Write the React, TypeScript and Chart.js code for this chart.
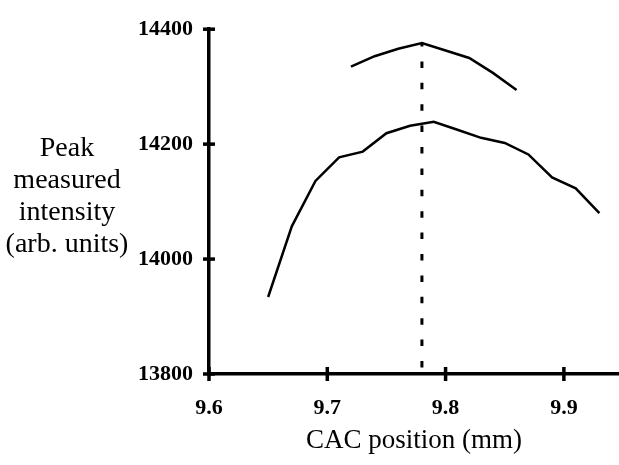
import React, { useEffect, useRef } from "react";
import { Chart, registerables } from "chart.js";

Chart.register(...registerables);

// Lower scan (measured peak intensity vs CAC position)
const lowerX = [9.65, 9.67, 9.69, 9.71, 9.73, 9.75, 9.77, 9.79, 9.81, 9.83, 9.85, 9.87, 9.89, 9.91, 9.93];
const lowerY = [13934, 14057, 14136, 14177, 14187, 14219, 14232, 14239, 14225, 14211, 14202, 14182, 14142, 14123, 14080];

// Upper scan
const upperX = [9.72, 9.74, 9.76, 9.78, 9.8, 9.82, 9.84, 9.86];
const upperY = [14335, 14353, 14366, 14376, 14363, 14350, 14324, 14294];

// Dashed marker at the optimum position
const markerX = 9.78;
const markerY = [14376, 13800];

// Axis ticks
const xTicks = [9.6, 9.7, 9.8, 9.9];
const yTicks = [13800, 14000, 14200, 14400];

const xTitle = "CAC position (mm)";
const yTitleLines = ["Peak", "measured", "intensity", "(arb. units)"];

const SERIF = "'Liberation Serif', 'Times New Roman', Times, serif";

const crossTicks = {
  id: "crossTicks",
  afterDraw(chart: any) {
    const ctx = chart.ctx;
    const xs = chart.scales.x;
    const ys = chart.scales.y;
    const axisX = chart.chartArea.left;
    const axisY = chart.chartArea.bottom;
    ctx.save();
    ctx.strokeStyle = "#000";
    ctx.lineWidth = 3.5;
    yTicks.forEach((v) => {
      const py = ys.getPixelForValue(v);
      ctx.beginPath();
      ctx.moveTo(axisX - 6, py);
      ctx.lineTo(axisX + 6, py);
      ctx.stroke();
    });
    xTicks.forEach((v) => {
      const px = xs.getPixelForValue(v);
      ctx.beginPath();
      ctx.moveTo(px, axisY - 7);
      ctx.lineTo(px, axisY + 7);
      ctx.stroke();
    });
    // horizontal y-axis title
    ctx.fillStyle = "#000";
    ctx.font = `28px ${SERIF}`;
    ctx.textAlign = "center";
    ctx.textBaseline = "alphabetic";
    const cx = 67;
    const firstBaseline = 156;
    const lh = 32;
    yTitleLines.forEach((line, i) => {
      ctx.fillText(line, cx, firstBaseline + i * lh);
    });
    ctx.restore();
  },
};

export default function App() {
  const ref = useRef<HTMLCanvasElement | null>(null);

  useEffect(() => {
    if (!ref.current) return;
    const toPts = (xs: number[], ys: number[]) => xs.map((x, i) => ({ x, y: ys[i] }));
    const chart = new Chart(ref.current, {
      type: "scatter",
      data: {
        datasets: [
          {
            data: toPts(lowerX, lowerY),
            showLine: true,
            borderColor: "#000",
            borderWidth: 2.5,
            pointRadius: 0,
            tension: 0,
            fill: false,
          },
          {
            data: toPts(upperX, upperY),
            showLine: true,
            borderColor: "#000",
            borderWidth: 2.5,
            pointRadius: 0,
            tension: 0,
            fill: false,
          },
          {
            data: markerY.map((y) => ({ x: markerX, y })),
            showLine: true,
            borderColor: "#000",
            borderWidth: 3,
            borderDash: [6.5, 14.9],
            borderDashOffset: 3,
            pointRadius: 0,
            fill: false,
          },
        ],
      },
      options: {
        animation: false,
        responsive: false,
        devicePixelRatio: 1,
        layout: { padding: { top: 19, right: 0, bottom: 0, left: 0 } },
        plugins: {
          legend: { display: false },
          tooltip: { enabled: false },
        },
        scales: {
          x: {
            type: "linear",
            min: 9.6,
            max: 9.9466,
            afterBuildTicks: (scale: any) => {
              scale.ticks = xTicks.map((value) => ({ value }));
            },
            afterFit: (scale: any) => {
              scale.height = 91;
            },
            grid: { display: true, drawOnChartArea: false, drawTicks: false, lineWidth: 3, color: "#000" },
            border: { display: true, color: "#000", width: 3.5 },
            ticks: {
              color: "#000",
              padding: 21,
              maxRotation: 0,
              font: { family: SERIF, size: 22, weight: "bold" },
              callback: (v: any) => Number(v).toFixed(1),
            },
            title: {
              display: true,
              text: xTitle,
              color: "#000",
              font: { family: SERIF, size: 27, weight: "normal" },
              padding: { top: 0, bottom: 8 },
            },
          },
          y: {
            type: "linear",
            min: 13800,
            max: 14400,
            afterBuildTicks: (scale: any) => {
              scale.ticks = yTicks.map((value) => ({ value }));
            },
            afterFit: (scale: any) => {
              scale.width = 209;
            },
            grid: { display: true, drawOnChartArea: false, drawTicks: false, lineWidth: 3, color: "#000" },
            border: { display: true, color: "#000", width: 3.5 },
            ticks: {
              color: "#000",
              padding: 16,
              font: { family: SERIF, size: 22, weight: "bold" },
              callback: (v: any) => String(v),
            },
          },
        },
      },
      plugins: [crossTicks],
    });
    return () => chart.destroy();
  }, []);

  return (
    <div style={{ position: "fixed", left: 0, top: 0, width: 619, height: 465, background: "#fff" }}>
      <canvas ref={ref} width={619} height={465} style={{ display: "block" }} />
    </div>
  );
}
